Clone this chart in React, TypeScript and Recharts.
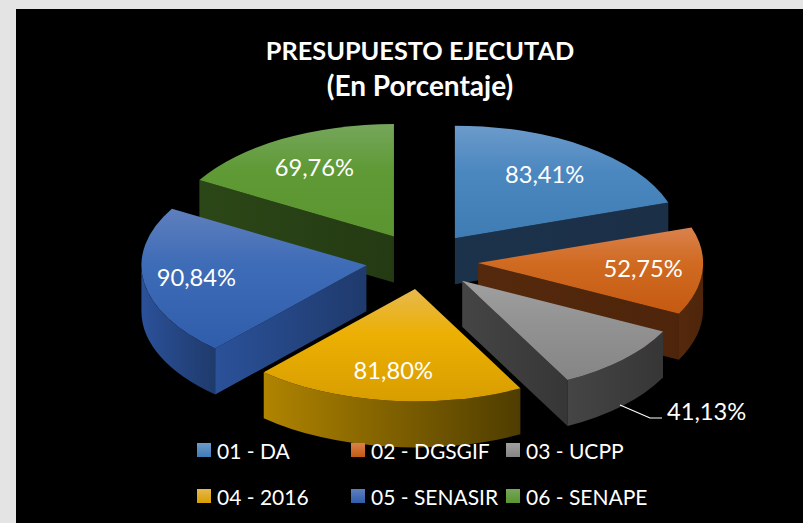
import React from 'react';
import { PieChart, Pie, Legend } from 'recharts';

const categories = ['01 - DA', '02 - DGSGIF', '03 - UCPP', '04 - 2016', '05 - SENASIR', '06 - SENAPE'];
const executed = [83.41, 52.75, 41.13, 81.8, 90.84, 69.76];

// top face gradient (light, middle, dark)
const topColors = [
  ['#6c9aca', '#4c88c0', '#3f7cb4'],
  ['#d9824e', '#d16b22', '#c55a11'],
  ['#a0a0a0', '#939393', '#858585'],
  ['#e6b94e', '#ecaf03', '#d89e00'],
  ['#5f7fbd', '#3e6cb7', '#2f5dab'],
  ['#76a65c', '#5f9a36', '#5b9530'],
];
// side faces, left to right
const sideColors = [
  ['#1c324b', '#1b2f47'],
  ['#55290c', '#4e250b'],
  ['#454545', '#363636'],
  ['#b08400', '#4f3d00'],
  ['#2b5199', '#1f3a6c'],
  ['#2c4717', '#243a13'],
];
// how far out the label sits, as a share of the radius; the third one is outside
const labelReach = [0.69, 0.74, 0, 0.74, 0.76, 0.7];

const squash = 0.5;
const depth = 46;
const explode = 0.25;
const FONT = 'Lato, "Open Sans", sans-serif';

const data = categories.map((name, i) => ({ name, value: executed[i] }));

// angles come in as recharts degrees, turn them into points on the tilted ellipse
const onEllipse = (cx: number, cy: number, r: number, deg: number) => {
  const rad = (deg * Math.PI) / 180;
  return { x: cx + r * Math.cos(rad), y: cy - r * squash * Math.sin(rad) };
};

const apexOf = (cx: number, cy: number, r: number, midAngle: number) => onEllipse(cx, cy, r * explode, midAngle);

const Slice3D = (props: any) => {
  const { cx, cy, outerRadius: r, startAngle, endAngle, midAngle, index } = props;
  const ry = r * squash;
  const apex = apexOf(cx, cy, r, midAngle);
  const p0 = onEllipse(apex.x, apex.y, r, startAngle);
  const p1 = onEllipse(apex.x, apex.y, r, endAngle);
  const large = startAngle - endAngle > 180 ? 1 : 0;
  const fillSide = `url(#side${index})`;

  const wall = (p: { x: number; y: number }) =>
    `M${apex.x},${apex.y}L${p.x},${p.y}L${p.x},${p.y + depth}L${apex.x},${apex.y + depth}Z`;

  // the rim only shows on the front half: 0 to -180 in recharts degrees
  const from = Math.min(startAngle, 0);
  const to = Math.max(endAngle, -180);
  let rim = '';
  if (from > to) {
    const r0 = onEllipse(apex.x, apex.y, r, from);
    const r1 = onEllipse(apex.x, apex.y, r, to);
    rim = `M${r0.x},${r0.y}A${r},${ry} 0 0 1 ${r1.x},${r1.y}L${r1.x},${r1.y + depth}A${r},${ry} 0 0 0 ${r0.x},${r0.y + depth}Z`;
  }

  return (
    <g>
      {p0.x < apex.x && <path d={wall(p0)} fill={fillSide} />}
      {p1.x > apex.x && <path d={wall(p1)} fill={fillSide} />}
      {rim && <path d={rim} fill={fillSide} />}
      <path
        d={`M${apex.x},${apex.y}L${p0.x},${p0.y}A${r},${ry} 0 ${large} 1 ${p1.x},${p1.y}Z`}
        fill={`url(#top${index})`}
      />
    </g>
  );
};

// the last slice sits behind the fifth, so it gets painted in its own pie first
const backShape = (props: any) => (props.index === 5 ? <Slice3D {...props} /> : <g />);
const frontShape = (props: any) => (props.index === 5 ? <g /> : <Slice3D {...props} />);

const sliceLabel = (props: any) => {
  const { cx, cy, outerRadius: r, midAngle, index } = props;
  const text = `${executed[index].toFixed(2).replace('.', ',')}%`;
  const style = { fill: '#fff', fontFamily: FONT, fontSize: 23.7 };
  if (index === 2) {
    return (
      <g>
        <polyline points="620,405 650,418 662,418" fill="none" stroke="#fff" strokeWidth={1.2} />
        <text x={667} y={411} dominantBaseline="central" style={style}>
          {text}
        </text>
      </g>
    );
  }
  const apex = apexOf(cx, cy, r, midAngle);
  const at = onEllipse(apex.x, apex.y, r * labelReach[index], midAngle);
  return (
    <text x={at.x - 1} y={at.y - 1.5} textAnchor="middle" dominantBaseline="central" style={style}>
      {text}
    </text>
  );
};

const ChartLegend = () => (
  <div style={{ display: 'flex', flexWrap: 'wrap', width: 470, fontFamily: FONT, fontSize: 21, color: '#fff' }}>
    {categories.map((c, i) => (
      <div key={c} style={{ width: i % 3 === 0 ? 154 : 155, height: 46, display: 'flex', alignItems: 'center' }}>
        <span
          style={{
            display: 'inline-block',
            width: 14,
            height: 14,
            marginRight: 6,
            background: `linear-gradient(${topColors[i][0]}, ${topColors[i][2]})`,
          }}
        />
        <span style={{ whiteSpace: 'nowrap' }}>{c}</span>
      </div>
    ))}
  </div>
);

export default function App() {
  return (
    <div style={{ position: 'absolute', left: 0, top: 0, width: 803, height: 523, background: '#e4e4e4', overflow: 'hidden' }}>
      <div style={{ position: 'absolute', left: 16, top: 9, width: 787, height: 514, background: '#000' }} />
      <div style={{ position: 'absolute', left: 0, top: 0 }}>
        <PieChart width={803} height={523} margin={{ top: 0, right: 0, bottom: 0, left: 0 }}>
          <defs>
            {topColors.map((c, i) => (
              <linearGradient key={i} id={`top${i}`} x1="0" y1="0" x2="0" y2="1">
                <stop offset="0" stopColor={c[0]} />
                <stop offset="0.4" stopColor={c[1]} />
                <stop offset="1" stopColor={c[2]} />
              </linearGradient>
            ))}
            {sideColors.map((c, i) => (
              <linearGradient key={i} id={`side${i}`} x1="0" y1="0" x2="1" y2="0">
                <stop offset="0" stopColor={c[0]} />
                <stop offset="1" stopColor={c[1]} />
              </linearGradient>
            ))}
          </defs>
          <text x={420} y={50} textAnchor="middle" dominantBaseline="central" fill="#fff" fontFamily={FONT} fontWeight={700} fontSize={25.3}>
            PRESUPUESTO EJECUTAD
          </text>
          <text x={420} y={85} textAnchor="middle" dominantBaseline="central" fill="#fff" fontFamily={FONT} fontWeight={700} fontSize={28}>
            (En Porcentaje)
          </text>
          <Pie
            data={data}
            dataKey="value"
            nameKey="name"
            cx={422}
            cy={261}
            outerRadius={225}
            startAngle={90}
            endAngle={-270}
            stroke="none"
            legendType="none"
            isAnimationActive={false}
            shape={backShape}
            inactiveShape={backShape}
          />
          <Pie
            data={data}
            dataKey="value"
            nameKey="name"
            cx={422}
            cy={261}
            outerRadius={225}
            startAngle={90}
            endAngle={-270}
            stroke="none"
            isAnimationActive={false}
            shape={frontShape}
            inactiveShape={frontShape}
            label={sliceLabel}
            labelLine={false}
          />
          <Legend content={<ChartLegend />} wrapperStyle={{ left: 197, top: 427, width: 470, bottom: 'auto' }} />
        </PieChart>
      </div>
    </div>
  );
}
